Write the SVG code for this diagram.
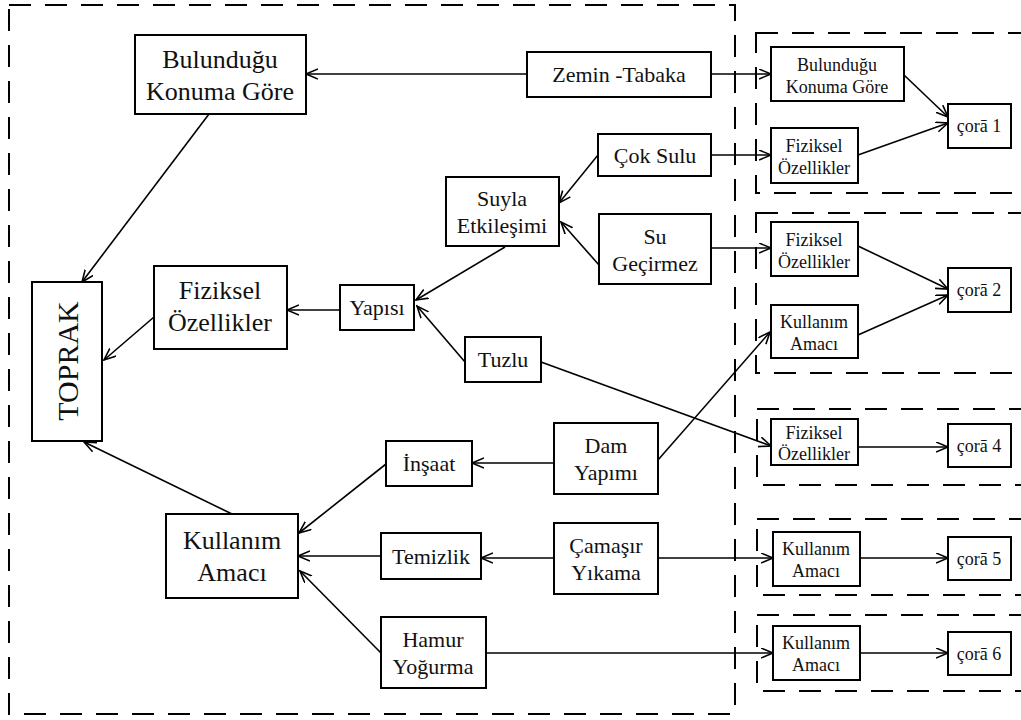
<svg xmlns="http://www.w3.org/2000/svg" width="1021" height="720" viewBox="0 0 1021 720" font-family="Liberation Serif, DejaVu Serif, serif">
  <defs>
    <marker id="arr" markerUnits="userSpaceOnUse" markerWidth="14" markerHeight="12" refX="12" refY="5.5" orient="auto">
      <path d="M0,0.5 L12,5.5 L0,10.5" fill="none" stroke="#000" stroke-width="1.6"/>
    </marker>
    <style>
      rect.n { fill: #fff; stroke: #000; stroke-width: 2; }
      rect.zone { fill: none; stroke: #000; stroke-width: 2; stroke-dasharray: 22 14; }
      text { font-family: 'Liberation Serif', 'DejaVu Serif', serif; fill: #111; text-anchor: middle; }
      .L { font-size: 26px; }
      .M { font-size: 22px; }
      .S { font-size: 18px; }
      #connectors line { stroke: #000; stroke-width: 1.6; fill: none; marker-end: url(#arr); }
    </style>
  </defs>
  <rect width="1021" height="720" fill="#fff"/>

  <!-- dashed zones -->
  <g id="zones">
    <rect class="zone" x="9" y="5" width="726" height="709"/>
    <rect class="zone" x="756" y="33" width="300" height="160"/>
    <rect class="zone" x="756" y="213" width="300" height="160"/>
    <rect class="zone" x="757" y="409" width="300" height="76"/>
    <rect class="zone" x="757" y="519" width="300" height="76"/>
    <rect class="zone" x="757" y="615" width="300" height="76"/>
  </g>

  <!-- connectors -->
  <g id="connectors">
    <line x1="527" y1="74" x2="306" y2="74"/>
    <line x1="711" y1="74" x2="771" y2="74"/>
    <line x1="209" y1="114" x2="82" y2="282"/>
    <line x1="154" y1="317" x2="104" y2="360"/>
    <line x1="232" y1="514" x2="84" y2="442"/>
    <line x1="340" y1="310" x2="287" y2="310"/>
    <line x1="505" y1="247" x2="416" y2="300"/>
    <line x1="465" y1="362" x2="417" y2="306"/>
    <line x1="598" y1="155" x2="559" y2="203"/>
    <line x1="599" y1="265" x2="561" y2="222"/>
    <line x1="711" y1="155" x2="771" y2="155"/>
    <line x1="711" y1="248" x2="771" y2="248"/>
    <line x1="541" y1="362" x2="771" y2="446"/>
    <line x1="658" y1="460" x2="770" y2="332"/>
    <line x1="554" y1="463" x2="472" y2="463"/>
    <line x1="386" y1="464" x2="299" y2="533"/>
    <line x1="554" y1="558" x2="481" y2="558"/>
    <line x1="381" y1="556" x2="298" y2="556"/>
    <line x1="658" y1="558" x2="773" y2="558"/>
    <line x1="381" y1="653" x2="300" y2="571"/>
    <line x1="486" y1="653" x2="773" y2="653"/>
    <line x1="904" y1="75" x2="948" y2="117"/>
    <line x1="858" y1="155" x2="948" y2="123"/>
    <line x1="858" y1="246" x2="948" y2="289"/>
    <line x1="858" y1="335" x2="948" y2="295"/>
    <line x1="858" y1="447" x2="948" y2="447"/>
    <line x1="860" y1="558" x2="948" y2="558"/>
    <line x1="860" y1="653" x2="948" y2="653"/>
  </g>

  <!-- left column -->
  <g id="toprak">
    <rect class="n" x="32" y="282" width="70" height="159"/>
    <text style="font-size:30px" transform="translate(78 361) rotate(-90)">TOPRAK</text>
  </g>
  <g id="konum">
    <rect class="n" x="135" y="35" width="171" height="79"/>
    <text class="L" x="220" y="68">Bulunduğu</text>
    <text class="L" x="220" y="100">Konuma Göre</text>
  </g>
  <g id="fiziksel">
    <rect class="n" x="154" y="266" width="133" height="83"/>
    <text class="L" x="220" y="299">Fiziksel</text>
    <text class="L" x="220" y="331">Özellikler</text>
  </g>
  <g id="kullanim">
    <rect class="n" x="166" y="514" width="132" height="84"/>
    <text class="L" x="232" y="549">Kullanım</text>
    <text class="L" x="232" y="581">Amacı</text>
  </g>

  <!-- middle column -->
  <g id="zemin">
    <rect class="n" x="527" y="52" width="184" height="45"/>
    <text class="M" x="619" y="82">Zemin -Tabaka</text>
  </g>
  <g id="cok-sulu">
    <rect class="n" x="598" y="134" width="113" height="42"/>
    <text class="M" x="655" y="163">Çok Sulu</text>
  </g>
  <g id="suyla">
    <rect class="n" x="446" y="177" width="113" height="69"/>
    <text class="M" x="502" y="206">Suyla</text>
    <text class="M" x="502" y="233">Etkileşimi</text>
  </g>
  <g id="su-gecirmez">
    <rect class="n" x="599" y="214" width="112" height="70"/>
    <text class="M" x="655" y="244">Su</text>
    <text class="M" x="655" y="271">Geçirmez</text>
  </g>
  <g id="yapisi">
    <rect class="n" x="340" y="285" width="74" height="45"/>
    <text class="M" x="377" y="315">Yapısı</text>
  </g>
  <g id="tuzlu">
    <rect class="n" x="465" y="337" width="76" height="45"/>
    <text class="M" x="503" y="367">Tuzlu</text>
  </g>
  <g id="dam">
    <rect class="n" x="554" y="423" width="104" height="71"/>
    <text class="M" x="606" y="453">Dam</text>
    <text class="M" x="606" y="480">Yapımı</text>
  </g>
  <g id="insaat">
    <rect class="n" x="386" y="441" width="86" height="45"/>
    <text class="M" x="429" y="471">İnşaat</text>
  </g>
  <g id="temizlik">
    <rect class="n" x="381" y="533" width="100" height="46"/>
    <text class="M" x="431" y="564">Temizlik</text>
  </g>
  <g id="camasir">
    <rect class="n" x="554" y="523" width="104" height="71"/>
    <text class="M" x="606" y="553">Çamaşır</text>
    <text class="M" x="606" y="580">Yıkama</text>
  </g>
  <g id="hamur">
    <rect class="n" x="381" y="617" width="105" height="71"/>
    <text class="M" x="433" y="647">Hamur</text>
    <text class="M" x="433" y="674">Yoğurma</text>
  </g>

  <!-- right column -->
  <g id="r1-konum">
    <rect class="n" x="771" y="47" width="133" height="54"/>
    <text class="S" x="837" y="71">Bulunduğu</text>
    <text class="S" x="837" y="93">Konuma Göre</text>
  </g>
  <g id="r1-fiziksel">
    <rect class="n" x="771" y="128" width="87" height="55"/>
    <text class="S" x="814" y="152">Fiziksel</text>
    <text class="S" x="814" y="174">Özellikler</text>
  </g>
  <g id="cora1">
    <rect class="n" x="948" y="104" width="63" height="44"/>
    <text class="S" x="979" y="132">çorā 1</text>
  </g>
  <g id="r2-fiziksel">
    <rect class="n" x="771" y="222" width="87" height="54"/>
    <text class="S" x="814" y="246">Fiziksel</text>
    <text class="S" x="814" y="268">Özellikler</text>
  </g>
  <g id="r2-kullanim">
    <rect class="n" x="771" y="305" width="87" height="53"/>
    <text class="S" x="814" y="328">Kullanım</text>
    <text class="S" x="814" y="350">Amacı</text>
  </g>
  <g id="cora2">
    <rect class="n" x="948" y="268" width="63" height="44"/>
    <text class="S" x="979" y="296">çorā 2</text>
  </g>
  <g id="r4-fiziksel">
    <rect class="n" x="771" y="419" width="87" height="46"/>
    <text class="S" x="814" y="439">Fiziksel</text>
    <text class="S" x="814" y="460">Özellikler</text>
  </g>
  <g id="cora4">
    <rect class="n" x="948" y="424" width="63" height="43"/>
    <text class="S" x="979" y="452">çorā 4</text>
  </g>
  <g id="r5-kullanim">
    <rect class="n" x="773" y="532" width="87" height="54"/>
    <text class="S" x="816" y="555">Kullanım</text>
    <text class="S" x="816" y="577">Amacı</text>
  </g>
  <g id="cora5">
    <rect class="n" x="948" y="537" width="63" height="43"/>
    <text class="S" x="979" y="565">çorā 5</text>
  </g>
  <g id="r6-kullanim">
    <rect class="n" x="773" y="626" width="87" height="54"/>
    <text class="S" x="816" y="649">Kullanım</text>
    <text class="S" x="816" y="671">Amacı</text>
  </g>
  <g id="cora6">
    <rect class="n" x="948" y="632" width="63" height="43"/>
    <text class="S" x="979" y="660">çorā 6</text>
  </g>
</svg>
